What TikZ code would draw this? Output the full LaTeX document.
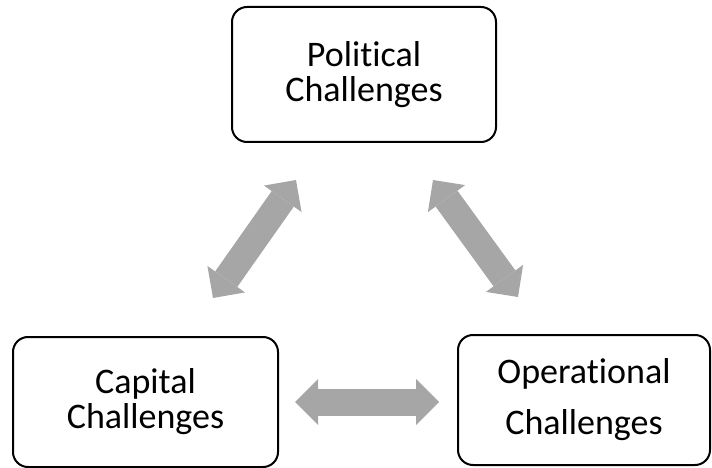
\documentclass[tikz,border=0pt]{standalone}
\usepackage{fontspec}
\setmainfont{Carlito}[RawFeature={-liga}]
\usetikzlibrary{arrows.meta}
\definecolor{arrowgray}{HTML}{A6A6A6}
\tikzset{
  challenge/.style={draw=black, line width=2pt, rounded corners=15pt,
    align=center, inner sep=0pt, font=\fontsize{36}{35}\selectfont},
  blockarrow/.style={draw=arrowgray, line width=27pt,
    {Triangle[length=23pt 0, width=46pt 0, line width=0pt]}-{Triangle[length=23pt 0, width=46pt 0, line width=0pt]}}
}
\begin{document}
\begin{tikzpicture}[x=1pt, y=-1pt]
  \useasboundingbox (0,0) rectangle (712,468);
  % the three challenge boxes
  \node[challenge, minimum width=264pt, minimum height=135pt] (pol) at (364,74.5)
    {Political\\Challenges};
  \node[challenge, minimum width=265pt, minimum height=130pt] (cap) at (145.5,402)
    {Capital\\Challenges};
  \node[challenge, minimum width=252pt, minimum height=130pt,
        font=\fontsize{36}{51}\selectfont] (ops) at (584,400)
    {Operational\\Challenges};
  % ends of the double-headed block arrows
  \coordinate (pc1) at (296,180);
  \coordinate (pc2) at (213,298);
  \coordinate (po1) at (433,180);
  \coordinate (po2) at (518,297);
  \coordinate (co1) at (295,402);
  \coordinate (co2) at (439,402);
  \draw[blockarrow] (pc1) -- (pc2);
  \draw[blockarrow] (po1) -- (po2);
  \draw[blockarrow] (co1) -- (co2);
\end{tikzpicture}
\end{document}
